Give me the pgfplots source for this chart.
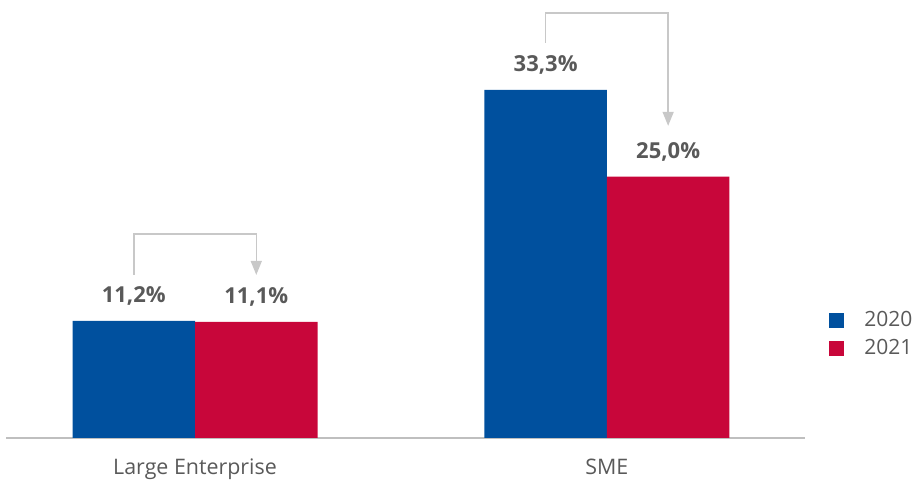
\documentclass[border=0pt]{standalone}
\usepackage{fontspec}
\setmainfont{Open Sans}
\usepackage{pgfplots}
\pgfplotsset{compat=1.18}
\usetikzlibrary{arrows.meta}
\definecolor{cblue}{HTML}{00509E}
\definecolor{cred}{HTML}{C8063A}
\definecolor{ctext}{HTML}{595959}
\definecolor{cline}{HTML}{BFBFBF}
\definecolor{carrow}{HTML}{C8C8C8}
\begin{document}
\begin{tikzpicture}
\path[use as bounding box] (-3pt,-21pt) rectangle (453pt,219pt);
\begin{axis}[
  scale only axis, width=399.5pt, height=219pt,
  at={(0,0)}, anchor=south west,
  xmin=-0.459, xmax=1.481, ymin=0, ymax=41.9,
  xtick={0,1}, xticklabels={Large Enterprise, SME},
  axis x line*=bottom, axis y line=none,
  x axis line style={draw=cline, line width=0.6pt, -},
  xtick style={draw=none},
  xticklabel style={font=\fontsize{10.7}{13}\selectfont, text=ctext, yshift=-2.5pt},
  ytick=\empty,
  ybar=0pt, bar width=61.25pt,
  point meta=explicit symbolic,
  nodes near coords style={anchor=base, yshift=9pt, font=\bfseries\fontsize{11}{13}\selectfont, text=ctext},
  legend style={at={(1.03,0.30)}, anchor=north west, draw=none, fill=none, inner sep=0pt,
    font=\fontsize{10.5}{12}\selectfont, text=ctext, row sep=1pt},
  legend image code/.code={\fill[#1, draw=none] (0pt,-3.75pt) rectangle (7.5pt,3.75pt); \path (15.5pt,0pt);},
  legend cell align=left,
]
\addplot[fill=cblue, draw=none, bar shift=-30.625pt, nodes near coords] coordinates {(0,11.2) [11,2\%] (1,33.3) [33,3\%]};
\addplot[fill=cred, draw=none, bar shift=30.625pt, nodes near coords] coordinates {(0,11.1) [11,1\%] (1,25.0) [25,0\%]};
\legend{2020,2021}
\addplot[sharp plot, forget plot, point meta=none, draw=carrow, line width=0.75pt, -{Triangle[width=5.5pt,length=7pt]}]
  coordinates {(-0.1487,15.6) (-0.1487,19.5) (0.1487,19.5) (0.1487,15.6)};
\addplot[sharp plot, forget plot, point meta=none, draw=carrow, line width=0.75pt, -{Triangle[width=5.5pt,length=7pt]}]
  coordinates {(0.8513,37.8) (0.8513,40.67) (1.1487,40.67) (1.1487,29.86)};
\end{axis}
\end{tikzpicture}
\end{document}
